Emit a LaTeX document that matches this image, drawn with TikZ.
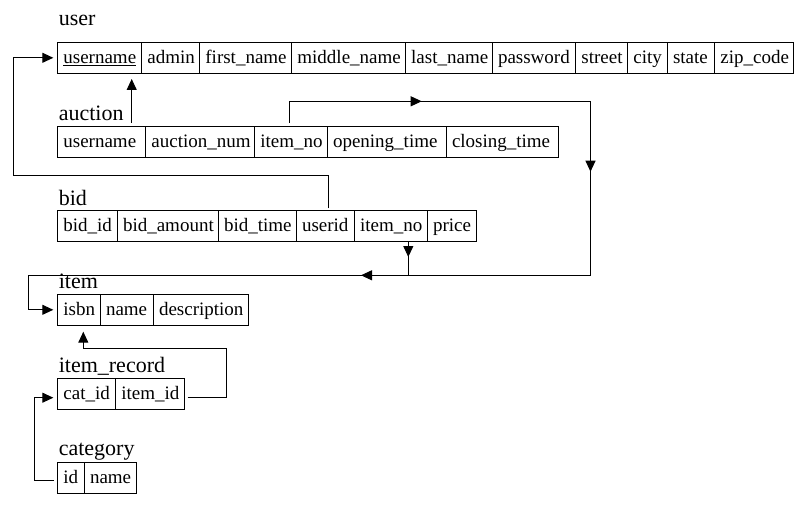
\documentclass[tikz,border=0pt]{standalone}
\usepackage{fontspec}
\setmainfont{Liberation Serif}
\usetikzlibrary{arrows.meta,calc}
\newcommand\cellfnt{\fontsize{19}{22}\selectfont}
\newcommand\lblfnt{\fontsize{22}{26}\selectfont}
\tikzset{
  cell/.style={draw, line width=1pt, anchor=north west, outer sep=0pt, inner sep=0pt,
    minimum height=31pt, text height=15pt, text depth=4pt, align=left, font=\cellfnt},
  tlabel/.style={anchor=base west, inner sep=0pt, font=\lblfnt},
  conn/.style={line width=1pt},
  fk/.style={line width=1pt, -{Triangle[length=11pt,width=10pt]}},
}
\newcommand\firstcell[5]{\node[cell,text width=#4pt] (#1) at (#2,#3) {\hspace*{5.7pt}#5};}
\newcommand\nextcell[4]{\node[cell,text width=#3pt] (#1) at (#2.north east) {\hspace*{5.7pt}#4};}
\begin{document}
\begin{tikzpicture}[x=1pt,y=-1pt]
\useasboundingbox (0,0) rectangle (811,516);
% labels
\node[tlabel] (lu) at (58.6,26) {user};
\node[tlabel] (la) at (58.6,120.7) {auction};
\node[tlabel] (lb) at (58.6,205) {bid};
\node[tlabel] (li) at (58.6,288.3) {item};
\node[tlabel] (lr) at (58.6,372.3) {item\_record};
\node[tlabel] (lc) at (58.6,455) {category};
% user
\firstcell{u1}{57.7}{42.3}{84}{\underline{username}}
\nextcell{u2}{u1}{58}{admin}
\nextcell{u3}{u2}{92}{first\_name}
\nextcell{u4}{u3}{113.8}{middle\_name}
\nextcell{u5}{u4}{86.8}{last\_name}
\nextcell{u6}{u5}{83.4}{password}
\nextcell{u7}{u6}{52}{street}
\nextcell{u8}{u7}{39.6}{city}
\nextcell{u9}{u8}{47.4}{state}
\nextcell{u10}{u9}{79}{zip\_code}
% auction
\firstcell{a1}{57.7}{126.3}{88}{username}
\nextcell{a2}{a1}{109}{auction\_num}
\nextcell{a3}{a2}{72.6}{item\_no}
\nextcell{a4}{a3}{119}{opening\_time}
\nextcell{a5}{a4}{112.4}{closing\_time}
% bid
\firstcell{b1}{57.7}{210.3}{59.6}{bid\_id}
\nextcell{b2}{b1}{101}{bid\_amount}
\nextcell{b3}{b2}{78}{bid\_time}
\nextcell{b4}{b3}{58}{userid}
\nextcell{b5}{b4}{73}{item\_no}
\nextcell{b6}{b5}{49}{price}
% item
\firstcell{i1}{57.7}{294.3}{42.6}{isbn}
\nextcell{i2}{i1}{53}{name}
\nextcell{i3}{i2}{95.4}{description}
% item_record
\firstcell{r1}{57.7}{378.3}{58}{cat\_id}
\nextcell{r2}{r1}{68.6}{item\_id}
% category
\firstcell{c1}{57.7}{462}{26.6}{id}
\nextcell{c2}{c1}{52.4}{name}
% auction.username -> user.username
\draw[fk] ($(a1.north west)+(74,-3.6)$) -- ($(u1.south west)+(74,5.7)$);
% bid.userid -> user.username
\draw[fk] ($(b4.north)+(3.4,-2)$) -- ++(0,-33) -| ($(u1.west)+(-44.4,0)$) -- ($(u1.west)+(-4.4,0)$);
% auction.item_no -> item.isbn
\coordinate (a3s) at ($(a3.north)+(-1.7,-3.6)$);
\coordinate (p1) at ($(a3s)+(0,-21.4)$);
\coordinate (p2) at ($(p1)+(301.2,0)$);
\coordinate (p3) at ($(p2)+(0,174)$);
\coordinate (p5) at ($(i1.west)+(-29.4,0)$);
\draw[fk] (a3s) -- (p1) -- (p2) -- (p3) -| (p5) -- ($(i1.west)+(-4.4,0)$);
\draw[fk] (p1) -- ($(p1)+(132.4,0)$);
\draw[fk] (p2) -- ($(p2)+(0,70.4)$);
\draw[fk] (p3) -- ($(p3)+(-229.5,0)$);
% bid.item_no -> item
\coordinate (b5s) at ($(b5.south)+(17.5,1)$);
\draw[conn] (b5s) -- (b5s |- p3);
\draw[fk] (b5s) -- ++(0,14.7);
% item_record.item_id -> item.isbn
\draw[fk] ($(r2.east)+(3.4,3.5)$) -- ++(39,0) -- ++(0,-49) -| ($(i1.south)+(4.3,6.4)$);
% category.id -> item_record.cat_id
\draw[fk] ($(c1.west)+(-3.7,2.5)$) -- ++(-19.3,0) |- ($(r1.west)+(-4.4,3.9)$);
\end{tikzpicture}
\end{document}
